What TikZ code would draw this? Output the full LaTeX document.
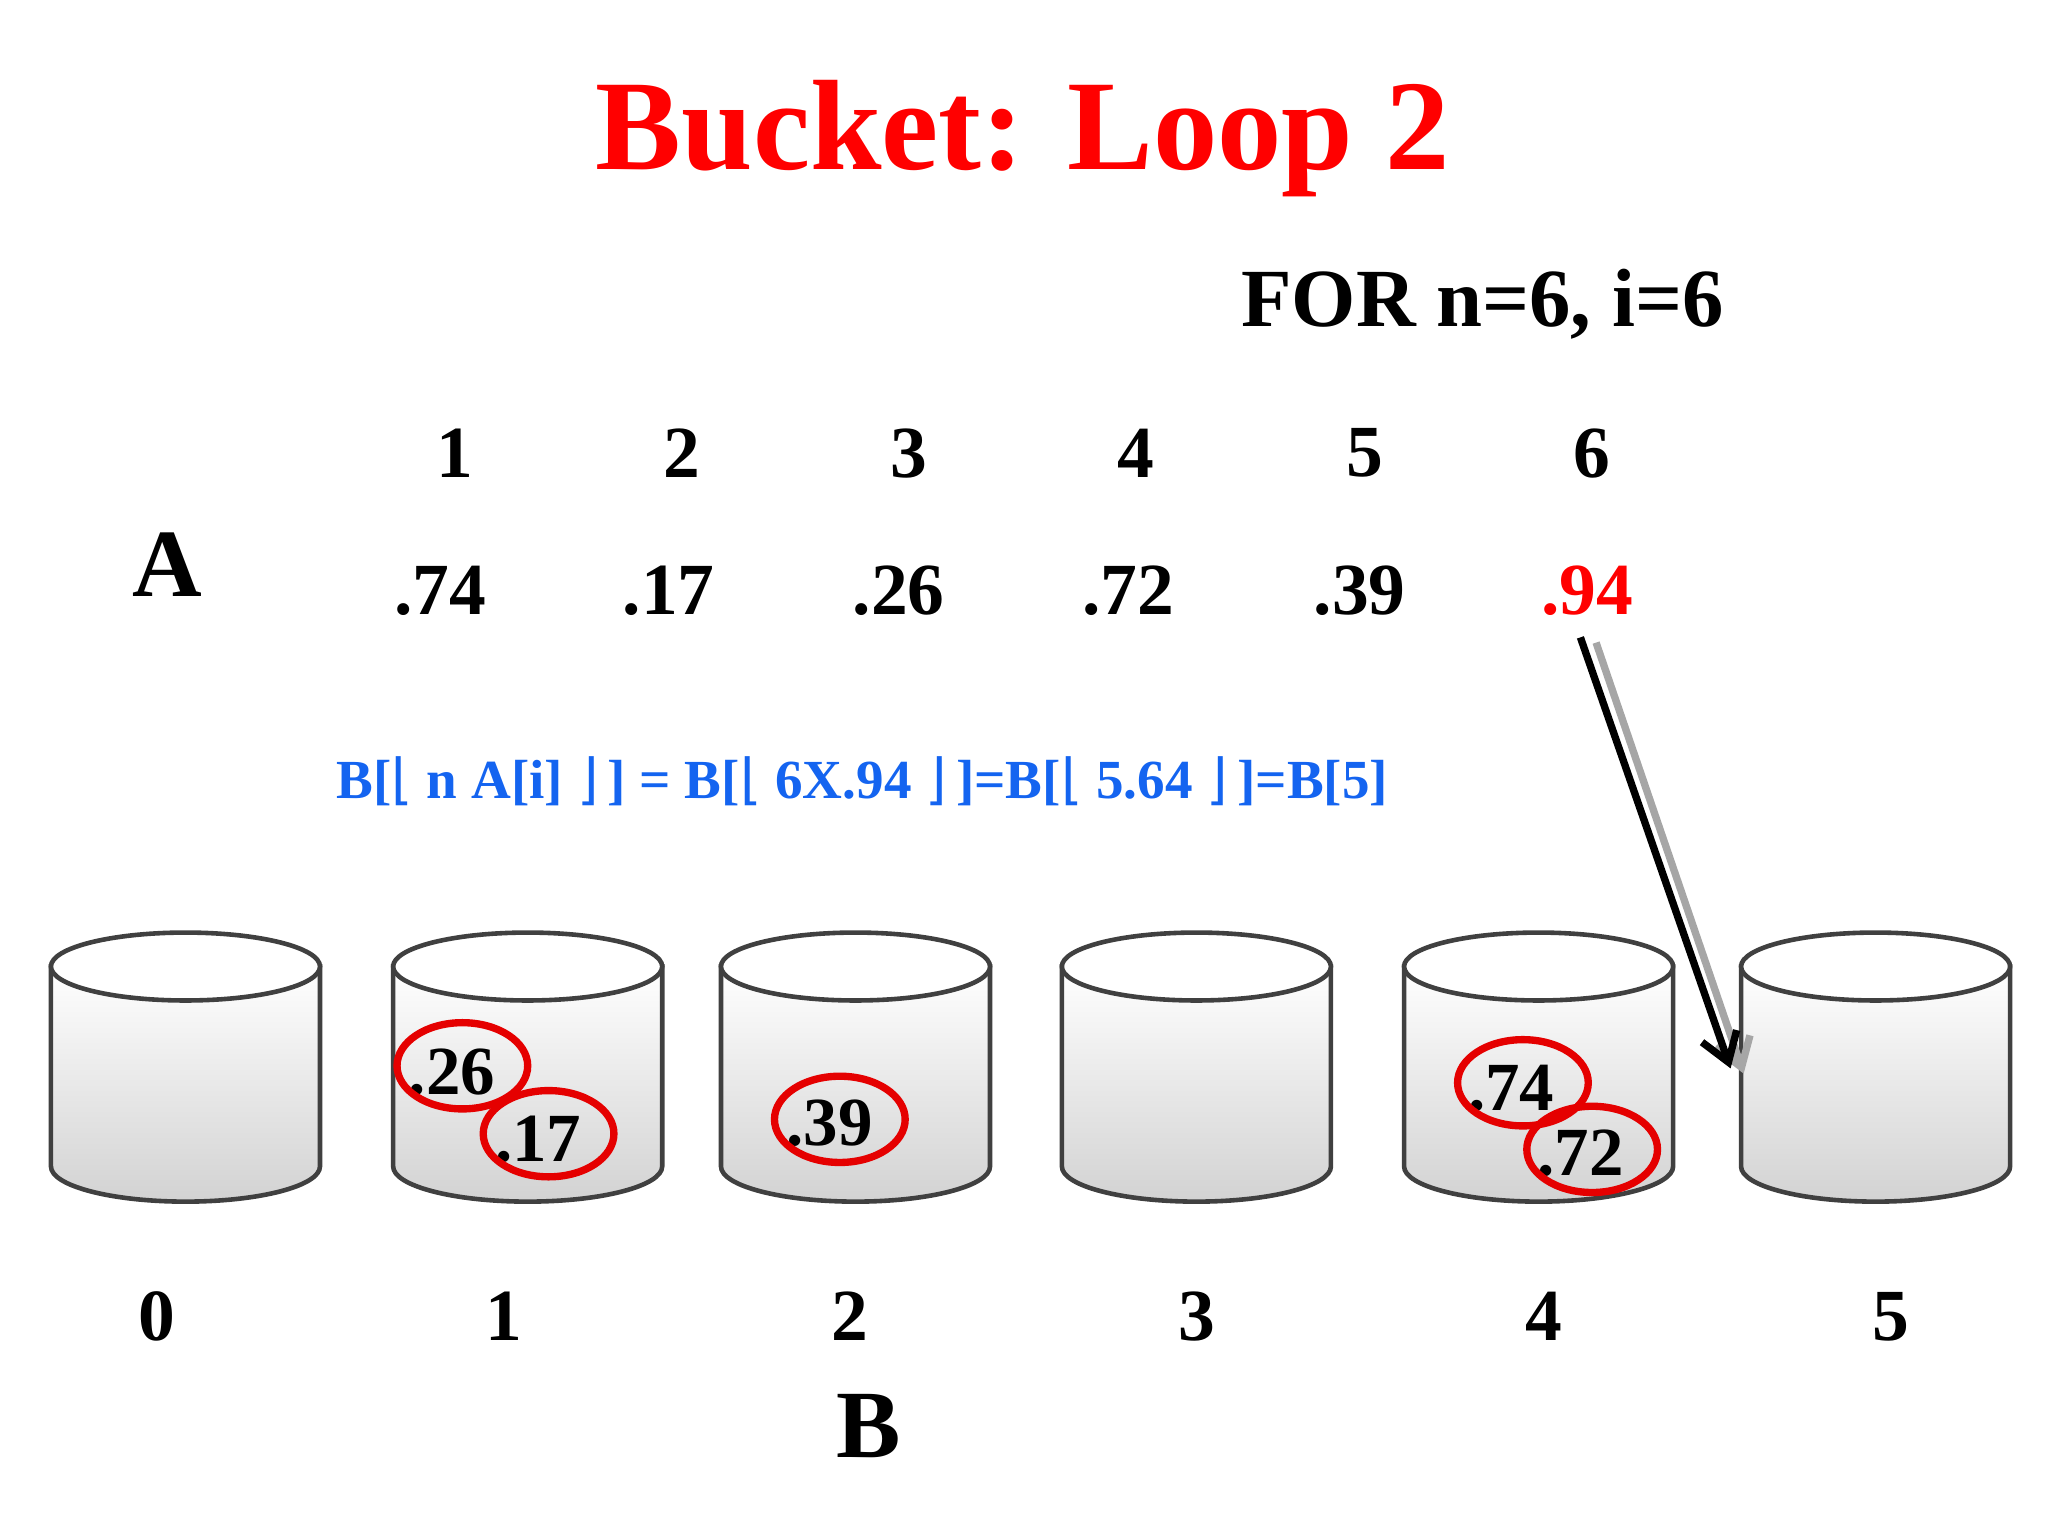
\documentclass[tikz,border=0pt]{standalone}
\usepackage{fontspec}
\setmainfont{Liberation Serif}
\newfontfamily\symf{DejaVu Sans}
\usetikzlibrary{arrows.meta}
\definecolor{fblue}{RGB}{20,100,240}
\tikzset{
 big/.style={font=\bfseries\fontsize{16}{18}\selectfont},
 circ/.style={draw=red!90!black, line width=1.6pt, ellipse, minimum width=1cm, minimum height=0.66cm, inner sep=0pt},
 val/.style={font=\bfseries\fontsize{15}{17}\selectfont},
}
\newcommand{\lfl}{{\symf\mdseries ⌊}}
\newcommand{\rfl}{{\symf\mdseries ⌋}}
\usetikzlibrary{shapes.geometric}
\begin{document}
\begin{tikzpicture}[x=0.01cm,y=-0.01cm]
\useasboundingbox (0,0) rectangle (1568,1176);
\node[text=red, font=\bfseries\fontsize{28}{32}\selectfont] (title) at (783,106) {Bucket: Loop 2};
\node[font=\bfseries\fontsize{18}{21}\selectfont] (for) at (1135,233) {FOR n=6, i=6};
\node[font=\bfseries\fontsize{21}{24}\selectfont] (A) at (128,432) {A};
\foreach \x/\t in {348/1,522/2,696/3,870/4,1045/5,1219/6}
  \node[big] (i\t) at (\x,347) {\t};
\foreach \x/\v/\n in {337/.74/1,512/.17/2,688/.26/3,864/.72/4,1041/.39/5}
  \node[big] (a\n) at (\x,452) {\v};
\node[big, text=red] (a6) at (1215,452) {.94};
\node[text=fblue, font=\bfseries\fontsize{12}{14}\selectfont, anchor=west, inner sep=0pt] (f) at (257,598)
 {B[\lfl\ n A[i] \rfl\,] = B[\lfl\ 6X.94 \rfl\,]=B[\lfl\ 5.64 \rfl\,]=B[5]};
\foreach \x/\n in {142/0,404/1,655/2,916/3,1178/4,1436/5} {
  \shade[top color=white, bottom color=gray!35, draw=gray!50!black, line width=1pt]
    (\x-103,740) -- (\x-103,893) arc[start angle=180,end angle=360,x radius=103,y radius=-27] -- (\x+103,740) -- cycle;
  \draw[fill=white, draw=gray!50!black, line width=1pt] (\x,740) ellipse[x radius=103, y radius=26];
  \coordinate (b\n) at (\x,820);
}
\foreach \x/\n in {120/0,386/1,651/2,916/3,1182/4,1448/5}
  \node[big] (l\n) at (\x,1008) {\n};
\node[font=\bfseries\fontsize{21}{24}\selectfont] (B) at (665,1092) {B};
\node[val] (v26) at (346,821) {.26};
\node[circ] (c26) at (354,816) {};
\node[val] (v17) at (412,872) {.17};
\node[circ] (c17) at (420,868) {};
\node[val] (v39) at (635,860) {.39};
\node[circ] (c39) at (643,857) {};
\node[val] (v74) at (1157,833) {.74};
\node[circ] (c74) at (1166,829) {};
\node[val] (v72) at (1210,883) {.72};
\node[circ] (c72) at (1219,880) {};
\coordinate (s1) at (1210,488); \coordinate (e1) at (1325,818);
\coordinate (s2) at (1222,492); \coordinate (e2) at (1335,822);
\draw[gray!70, line width=1.6pt, -{Straight Barb[length=6pt,width=8pt]}] (s2) -- (e2);
\draw[black, line width=1.6pt, -{Straight Barb[length=6pt,width=8pt]}] (s1) -- (e1);
\end{tikzpicture}
\end{document}
